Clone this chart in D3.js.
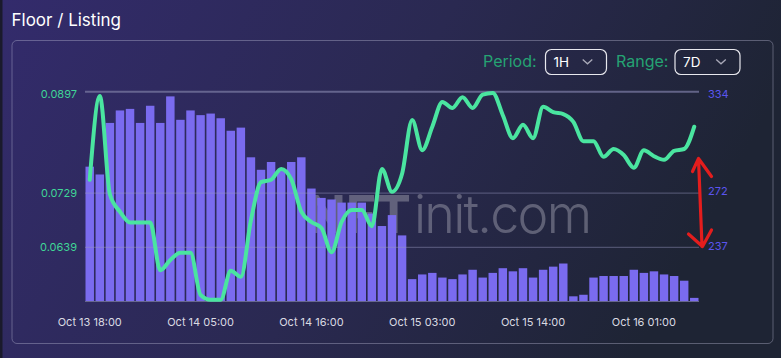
<!DOCTYPE html>
<html>
<head>
<meta charset="utf-8">
<script src="https://cdn.jsdelivr.net/npm/d3@7"></script>
<style>
  html, body { margin: 0; padding: 0; background: #1f2536; }
  svg { display: block; }
  text { font-family: Inter, "Noto Sans", sans-serif; }
</style>
</head>
<body>
<svg id="chart" width="781" height="358"></svg>
<script>
// ---------- data ----------
const tickLabels = ["Oct 13 18:00", "Oct 14 05:00", "Oct 14 16:00", "Oct 15 03:00", "Oct 15 14:00", "Oct 16 01:00"];
const tickIndex = [0, 11, 22, 33, 44, 55];
const listings = [286,281,314,322,323,314,325,314,331,316,322,319,320,317,309,311,292,284,289,284,
                  289,292,272,266,265,263,263,263,256,248,255,242,214,217,218,215,214,217,220,215,
                  218,221,219,221,215,220,222,224,203,204,215,216,216,216,220,218,219,217,216,213,202];
const floorPrice = [0.0751,0.0890,0.0727,0.0698,0.0680,0.0680,0.0680,0.0601,0.0618,0.0630,
                    0.0630,0.0560,0.0552,0.0552,0.0600,0.0590,0.0684,0.0747,0.0751,0.0769,
                    0.0752,0.0698,0.0681,0.0671,0.0631,0.0681,0.0701,0.0701,0.0674,0.0769,
                    0.0731,0.0761,0.0850,0.0800,0.0839,0.0880,0.0870,0.0888,0.0870,0.0892,
                    0.0895,0.0858,0.0820,0.0842,0.0820,0.0872,0.0863,0.0860,0.0847,0.0815,
                    0.0815,0.0789,0.0802,0.0792,0.0771,0.0800,0.0790,0.0784,0.0799,0.0802,0.0839];
const leftTicks = [0.0639, 0.0729, 0.0897];
const rightTicks = [237, 272, 334];
const periodOptions = ["1H"];
const rangeOptions = ["7D"];

// ---------- layout ----------
const svg = d3.select("#chart");
const W = 781, H = 358;
const plot = { left: 85, right: 699, top: 91.7, bottom: 301 };

const defs = svg.append("defs");
const bg = defs.append("linearGradient").attr("id", "bg")
  .attr("x1", "0%").attr("y1", "0%").attr("x2", "100%").attr("y2", "25%");
bg.append("stop").attr("offset", "0%").attr("stop-color", "#332b6c");
bg.append("stop").attr("offset", "55%").attr("stop-color", "#2a2951");
bg.append("stop").attr("offset", "100%").attr("stop-color", "#1e2434");

svg.append("rect").attr("width", W).attr("height", H).attr("fill", "url(#bg)");
svg.append("rect").attr("x", 0).attr("y", 0).attr("width", 2.5).attr("height", H).attr("fill", "#1a1a2c");

svg.append("text").attr("x", 11.5).attr("y", 26).attr("fill", "#ffffff")
  .attr("font-size", 17).text("Floor / Listing");

svg.append("rect").attr("x", 12).attr("y", 40.5).attr("width", 761).attr("height", 303)
  .attr("rx", 5).attr("fill", "none").attr("stroke", "rgba(190,190,215,0.38)").attr("stroke-width", 1);

// controls
function control(labelX, label, boxX, boxW, value) {
  svg.append("text").attr("x", labelX).attr("y", 67).attr("fill", "#25a373")
    .attr("font-size", 16).text(label);
  svg.append("rect").attr("x", boxX).attr("y", 49.5).attr("width", boxW).attr("height", 25)
    .attr("rx", 6).attr("fill", "none").attr("stroke", "#e8e8ee").attr("stroke-width", 1.2);
  svg.append("text").attr("x", boxX + 8).attr("y", 67).attr("fill", "#ffffff")
    .attr("font-size", 13.5).text(value);
  const cx = boxX + boxW - 19;
  svg.append("path").attr("d", `M${cx-4.8},59.5 L${cx},63.8 L${cx+4.8},59.5`)
    .attr("fill", "none").attr("stroke", "#a9a9b8").attr("stroke-width", 1.3);
}
control(483, "Period:", 545.5, 61, periodOptions[0]);
control(616, "Range:", 675, 65, rangeOptions[0]);

// scales
const x = d3.scaleBand().domain(d3.range(listings.length)).range([plot.left, plot.right])
  .paddingInner(0.16).paddingOuter(0.05);
const yL = d3.scaleLinear().domain([0.055, 0.0897]).range([plot.bottom, plot.top]);
const yR = d3.scaleLinear().domain([200, 334]).range([plot.bottom, plot.top]);
const cx = i => x(i) + x.bandwidth() / 2;

// watermark (behind bars)
const wm = svg.append("g").attr("opacity", 0.5);
wm.append("text").attr("x", 411).attr("y", 233).attr("text-anchor", "end")
  .attr("font-size", 52).attr("font-weight", 700).attr("fill", "#9a9aaa").text("NFT");
wm.append("text").attr("x", 414).attr("y", 233).attr("textLength", 178)
  .attr("font-size", 52).attr("font-weight", 300).attr("fill", "#9a9aaa").text("init.com");

// bars
svg.append("g").selectAll("rect").data(listings).join("rect")
  .attr("x", (d, i) => x(i)).attr("width", x.bandwidth())
  .attr("y", d => yR(d)).attr("height", d => plot.bottom - yR(d))
  .attr("fill", "#7a6bef");

// gridlines
svg.append("g").selectAll("line").data(leftTicks).join("line")
  .attr("x1", plot.left).attr("x2", plot.right)
  .attr("y1", d => yL(d)).attr("y2", d => yL(d))
  .attr("stroke", (d, i) => i === leftTicks.length - 1 ? "rgba(120,120,160,0.75)" : "rgba(150,150,190,0.4)")
  .attr("stroke-width", (d, i) => i === leftTicks.length - 1 ? 2 : 1.2);
svg.append("line").attr("x1", plot.left).attr("x2", plot.right)
  .attr("y1", plot.bottom + 0.5).attr("y2", plot.bottom + 0.5)
  .attr("stroke", "rgba(110,110,150,0.9)").attr("stroke-width", 1.2);

// line
const line = d3.line().x((d, i) => cx(i)).y(d => yL(d)).curve(d3.curveMonotoneX);
svg.append("path").datum(floorPrice).attr("d", line)
  .attr("fill", "none").attr("stroke", "#4ae5a0").attr("stroke-width", 4)
  .attr("stroke-linejoin", "round").attr("stroke-linecap", "round");

// left axis labels
svg.append("g").selectAll("text").data(leftTicks).join("text")
  .attr("x", 77).attr("y", d => Math.max(yL(d), 94) + 4).attr("text-anchor", "end")
  .attr("font-size", 11).attr("fill", "#3fd596").text(d => d.toFixed(4));

// right axis labels
svg.append("g").selectAll("text").data(rightTicks).join("text")
  .attr("x", 708).attr("y", d => yR(d) + 6.5)
  .attr("font-size", 11).attr("fill", "#5b55f0").text(d => d);

// x axis labels
svg.append("g").selectAll("text").data(tickIndex).join("text")
  .attr("x", d => cx(d)).attr("y", 326).attr("text-anchor", "middle")
  .attr("font-size", 11).attr("fill", "#dadae2").text((d, i) => tickLabels[i]);

// red annotation arrow
const ay1 = 158.5, ay2 = 246.5;
svg.append("path")
  .attr("d", `M698.5,${ay1} L702,${ay2} M692.5,171.5 L698.5,${ay1} L711.5,176.5 M688.5,234 L702.5,${ay2} L711.5,230`)
  .attr("fill", "none").attr("stroke", "#e41d1d").attr("stroke-width", 3.2)
  .attr("stroke-linecap", "round").attr("stroke-linejoin", "round");
</script>
</body>
</html>
